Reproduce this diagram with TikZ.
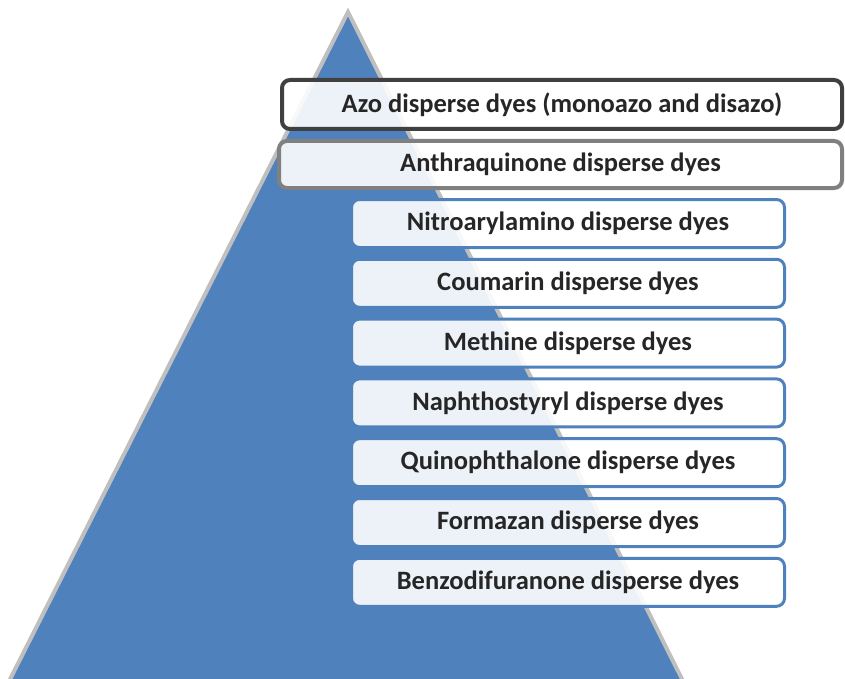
\documentclass[tikz,border=0pt]{standalone}
\usepackage{fontspec}
\setmainfont{Carlito}
\usepackage{tikz}
\usetikzlibrary{positioning}
\definecolor{pyrblue}{RGB}{79,129,189}
\definecolor{pyredge}{RGB}{191,191,191}
\definecolor{txtgray}{RGB}{38,38,38}

\begin{document}
\begin{tikzpicture}[x=1pt, y=-1pt,
    layer/.style={draw=#1, line width=3pt, rounded corners=8pt, fill=white, fill opacity=0.9, text opacity=1,
        minimum height=48pt, minimum width=433pt, inner sep=0pt, text=txtgray, font=\fontsize{26.5}{30}\selectfont\bfseries}
]
\useasboundingbox (0,0) rectangle (845,679);
\clip (0,0) rectangle (845,679);
% Pyramid
\draw[pyredge, line width=4pt, fill=pyrblue] (348,12) -- (692.5,700) -- (-0.5,700) -- cycle;

% Top layers
\node[layer=black!75, line width=4pt, minimum width=560pt, minimum height=49pt] (azo) at (562,104.5) {Azo disperse dyes (monoazo and disazo)};
\node[layer=black!50, line width=4pt, minimum width=563pt, minimum height=47pt] (anthra) at (560.5,164.5) {Anthraquinone disperse dyes};

% Remaining classes
\node[layer=pyrblue] (nitro) at (568,223.5) {Nitroarylamino disperse dyes};
\node[layer=pyrblue, below=8.8pt of nitro] (coum) {Coumarin disperse dyes};
\node[layer=pyrblue, below=8.8pt of coum] (meth) {Methine disperse dyes};
\node[layer=pyrblue, below=8.8pt of meth] (naph) {Naphthostyryl disperse dyes};
\node[layer=pyrblue, below=8.8pt of naph] (quin) {Quinophthalone disperse dyes};
\node[layer=pyrblue, below=8.8pt of quin] (form) {Formazan disperse dyes};
\node[layer=pyrblue, below=8.8pt of form] (benzo) {Benzodifuranone disperse dyes};
\end{tikzpicture}
\end{document}
